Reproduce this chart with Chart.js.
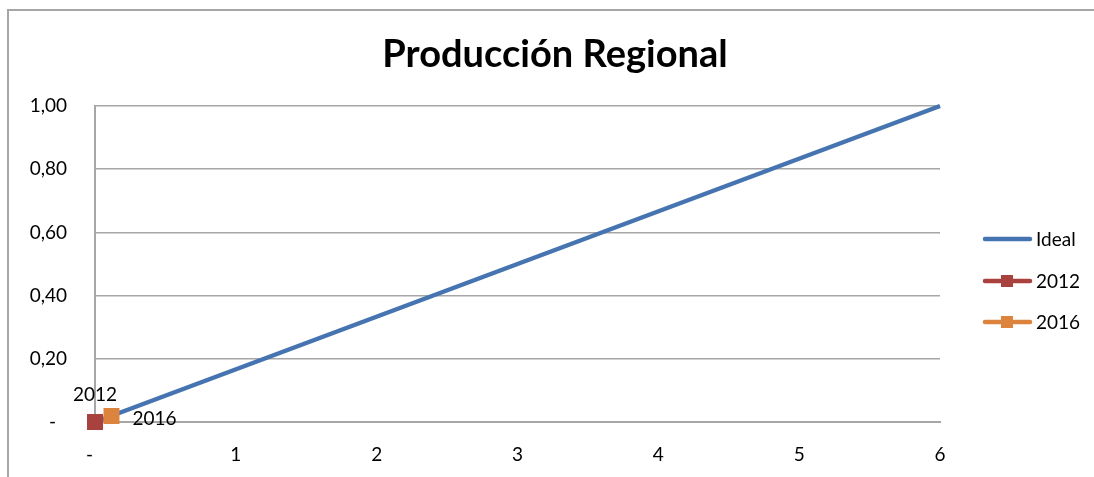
<!DOCTYPE html>
<html><head><meta charset="utf-8">
<script src="https://cdn.jsdelivr.net/npm/chart.js@4/dist/chart.umd.min.js"></script>
<style>html,body{margin:0;padding:0;background:#fff;}#wrap{width:1094px;height:477px;position:relative;}</style>
</head><body><div id="wrap"><canvas id="c" width="1094" height="477"></canvas></div>
<script>
const chartTitle = 'Producción Regional';
const seriesNames = ['Ideal', '2012', '2016'];
const idealX = [0, 6];
const idealY = [0, 1];
const x2012 = [0];
const y2012 = [0];
const x2016 = [0.117];
const y2016 = [0.019];
const pointLabels2012 = ['2012'];
const pointLabels2016 = ['2016'];
const xTickLabels = ['-\u2007', '1', '2', '3', '4', '5', '6'];
const yTickLabels = ['-\u2007', '0,20', '0,40', '0,60', '0,80', '1,00'];

const FONT = 'Lato, "Open Sans", sans-serif';
const colors = ['#4674b0', '#a9423f', '#dc843d'];

function pts(xs, ys){ return xs.map((x,i)=>({x:x, y:ys[i]})); }

const framePlugin = {
  id: 'frame',
  beforeDraw(chart){
    const ctx = chart.ctx;
    ctx.save();
    ctx.strokeStyle = '#a6a6a6';
    ctx.lineWidth = 2;
    ctx.beginPath();
    ctx.moveTo(8, 477); ctx.lineTo(8, 10); ctx.lineTo(1094, 10);
    ctx.stroke();
    ctx.fillStyle = '#000';
    ctx.font = 'bold 38px ' + FONT;
    ctx.textAlign = 'center';
    ctx.textBaseline = 'middle';
    ctx.fillText(chartTitle, 555, 55);
    ctx.restore();
  },
  afterDraw(chart){
    const ctx = chart.ctx;
    ctx.save();
    ctx.fillStyle = '#000';
    ctx.font = '19px ' + FONT;
    ctx.textBaseline = 'middle';
    const m1 = chart.getDatasetMeta(1).data;
    m1.forEach((el,i)=>{ ctx.textAlign='center'; ctx.fillText(pointLabels2012[i], el.x, el.y - 27); });
    const m2 = chart.getDatasetMeta(2).data;
    m2.forEach((el,i)=>{ ctx.textAlign='left'; ctx.fillText(pointLabels2016[i], el.x + 21, el.y + 3); });
    const ly = [239, 281, 322];
    seriesNames.forEach((n,i)=>{
      ctx.strokeStyle = colors[i];
      ctx.lineWidth = 4.5;
      ctx.lineCap = 'round';
      ctx.beginPath(); ctx.moveTo(985, ly[i]); ctx.lineTo(1030, ly[i]); ctx.stroke();
      if (i > 0){ ctx.fillStyle = colors[i]; ctx.fillRect(1001, ly[i]-6, 12, 12); }
      ctx.fillStyle = '#000';
      ctx.textAlign = 'left';
      ctx.fillText(n, 1036, ly[i] + 1);
    });
    ctx.restore();
  }
};

new Chart(document.getElementById('c'), {
  type: 'scatter',
  data: {
    datasets: [
      { label: seriesNames[0], data: pts(idealX, idealY), showLine: true, borderColor: colors[0], borderWidth: 4.5, pointRadius: 0, clip: false, order: 3 },
      { label: seriesNames[1], data: pts(x2012, y2012), backgroundColor: colors[1], borderColor: colors[1], borderWidth: 0, pointStyle: 'rect', pointRadius: 11.3, clip: false, order: 2 },
      { label: seriesNames[2], data: pts(x2016, y2016), backgroundColor: colors[2], borderColor: colors[2], borderWidth: 0, pointStyle: 'rect', pointRadius: 11.3, clip: false, order: 1 }
    ]
  },
  options: {
    responsive: false,
    animation: false,
    events: [],
    layout: { padding: { left: 0, right: 154, top: 106, bottom: 0 } },
    plugins: { legend: { display: false }, title: { display: false }, tooltip: { enabled: false } },
    scales: {
      x: {
        type: 'linear', min: 0, max: 6,
        afterFit(s){ s.height = 55; },
        grid: { display: false, drawTicks: false },
        border: { display: true, color: '#a6a6a6', width: 2 },
        ticks: { stepSize: 1, padding: 21, color: '#000', font: { family: FONT, size: 19 },
          callback: (v) => xTickLabels[Math.round(v)] }
      },
      y: {
        min: 0, max: 1,
        afterFit(s){ s.width = 95; },
        grid: { color: '#a6a6a6', lineWidth: 1.5, drawTicks: false },
        border: { display: true, color: '#a6a6a6', width: 2 },
        ticks: { stepSize: 0.2, padding: 28, color: '#000', font: { family: FONT, size: 19 },
          callback: (v) => yTickLabels[Math.round(v * 5)] }
      }
    }
  },
  plugins: [framePlugin]
});
</script>
</body></html>
